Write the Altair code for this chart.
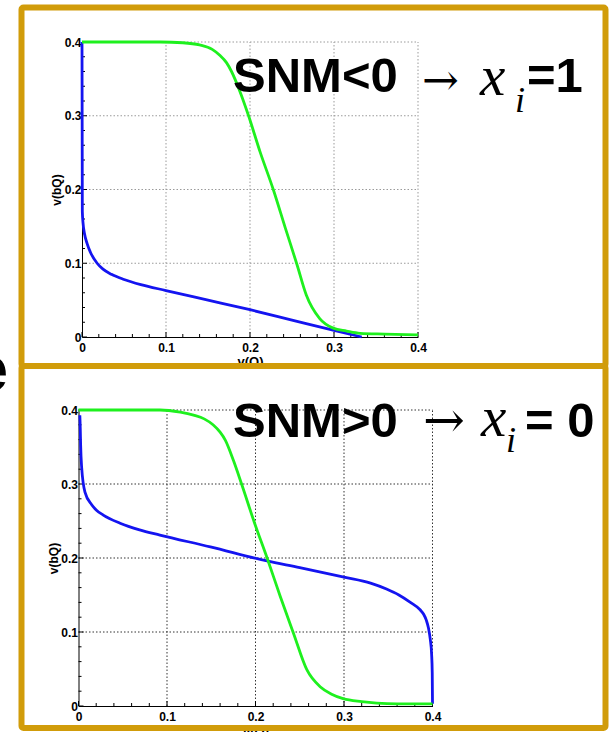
import altair as alt
import pandas as pd

V_MAX = 0.4
MAJOR_TICKS = [0, 0.1, 0.2, 0.3, 0.4]
MINOR_TICKS = [0.02, 0.04, 0.06, 0.08, 0.12, 0.14, 0.16, 0.18,
               0.22, 0.24, 0.26, 0.28, 0.32, 0.34, 0.36, 0.38]
GRID_LINES = [0.1, 0.2, 0.3, 0.4]

# upper plot: butterfly curves that do not enclose a lobe (SNM < 0)
up_green_x = [0.0, 0.05, 0.093, 0.12, 0.14, 0.155, 0.164, 0.172, 0.178, 0.188, 0.198,
              0.212, 0.228, 0.242, 0.256, 0.267, 0.283, 0.299, 0.315, 0.331, 0.36, 0.4]
up_green_y = [0.4, 0.4, 0.4, 0.399, 0.396, 0.39, 0.382, 0.372, 0.36, 0.333, 0.301,
              0.251, 0.199, 0.148, 0.098, 0.057, 0.025, 0.012, 0.008, 0.005, 0.004, 0.003]
up_blue_x = [0.0, 0.0004, 0.0012, 0.003, 0.006, 0.01, 0.018, 0.025, 0.035, 0.05,
             0.07, 0.1, 0.15, 0.2, 0.25, 0.3, 0.333]
up_blue_y = [0.4, 0.17, 0.155, 0.14, 0.127, 0.115, 0.1, 0.092, 0.085, 0.078,
             0.071, 0.063, 0.05, 0.037, 0.023, 0.009, 0.0]

# lower plot: curves crossing in the middle (SNM > 0)
lo_green_x = [0.0, 0.05, 0.092, 0.115, 0.13, 0.142, 0.152, 0.16, 0.166, 0.175, 0.184,
              0.199, 0.214, 0.228, 0.243, 0.258, 0.273, 0.286, 0.299, 0.32, 0.337, 0.36, 0.4]
lo_green_y = [0.4, 0.4, 0.4, 0.397, 0.393, 0.388, 0.38, 0.37, 0.359, 0.332, 0.301,
              0.247, 0.197, 0.148, 0.098, 0.049, 0.026, 0.016, 0.01, 0.006, 0.004, 0.003, 0.003]
lo_blue_x = [0.0015, 0.002, 0.0024, 0.0036, 0.0073, 0.0149, 0.02, 0.028, 0.047, 0.069,
             0.092, 0.149, 0.213, 0.25, 0.3, 0.33, 0.348, 0.362, 0.375, 0.386, 0.39,
             0.393, 0.3955, 0.3975, 0.399, 0.3997, 0.4]
lo_blue_y = [0.393, 0.375, 0.353, 0.322, 0.289, 0.272, 0.265, 0.258, 0.247, 0.238,
             0.231, 0.215, 0.196, 0.187, 0.174, 0.166, 0.158, 0.15, 0.14, 0.13, 0.124,
             0.116, 0.105, 0.09, 0.07, 0.045, 0.003]

W, H = 610, 732
GOLD = "#D19C0A"
GREEN = "#1EF01E"
BLUE = "#1414F0"
AXIS_FONT = "Liberation Sans Narrow, Liberation Sans"
SANS = "Liberation Sans"
SERIF = "Liberation Serif"


def panel(gx, gy, bx, by, x_px, y_px, grid_color, xtitle_dy, ytitle_x):
    xs = alt.Scale(domain=[0, V_MAX], range=x_px, nice=False, zero=False)
    ys = alt.Scale(domain=[0, V_MAX], range=y_px, nice=False, zero=False)

    x_axis = alt.Axis(
        orient="bottom", offset=y_px[0] - H, values=MAJOR_TICKS, format="~g",
        grid=False, ticks=False, labelFlush=False, labelPadding=5,
        domainColor="black", domainWidth=1,
        labelFont=AXIS_FONT, labelFontSize=12, labelFontWeight="bold", labelColor="black",
        title="v(Q)", titleFont=AXIS_FONT, titleFontSize=13, titleFontWeight="bold",
        titleColor="black", titleX=(x_px[0] + x_px[1]) / 2, titleY=xtitle_dy,
        titleAlign="center", titleBaseline="top")
    y_axis = alt.Axis(
        orient="left", offset=-x_px[0], values=MAJOR_TICKS, format="~g",
        grid=False, ticks=False, labelFlush=False, labelPadding=1,
        domainColor="black", domainWidth=1,
        labelFont=AXIS_FONT, labelFontSize=12, labelFontWeight="bold", labelColor="black",
        title="v(bQ)", titleFont=AXIS_FONT, titleFontSize=12, titleFontWeight="bold",
        titleColor="black", titleAngle=270, titleX=ytitle_x - x_px[0],
        titleY=(y_px[0] + y_px[1]) / 2, titleAlign="center", titleBaseline="middle")

    def X(field):
        return alt.X(field, scale=xs, axis=x_axis)

    def Y(field):
        return alt.Y(field, scale=ys, axis=y_axis)

    grid = pd.DataFrame({"g": GRID_LINES, "lo": 0.0, "hi": V_MAX})
    major = pd.DataFrame({"t": MAJOR_TICKS, "lo": 0.0})
    minor = pd.DataFrame({"t": MINOR_TICKS, "lo": 0.0})
    green = pd.DataFrame({"v": gx, "w": gy})
    blue = pd.DataFrame({"v": bx, "w": by})

    dotted = dict(color=grid_color, strokeDash=[1.5, 2], strokeWidth=1)
    vgrid = alt.Chart(grid).mark_rule(**dotted).encode(x=X("g:Q"), y=Y("lo:Q"), y2="hi:Q")
    hgrid = alt.Chart(grid).mark_rule(**dotted).encode(y=Y("g:Q"), x=X("lo:Q"), x2="hi:Q")

    def xticks(df, size):
        return alt.Chart(df).mark_rule(color="black", strokeWidth=1, y2Offset=-size).encode(
            x=X("t:Q"), y=Y("lo:Q"), y2="lo:Q")

    def yticks(df, size):
        return alt.Chart(df).mark_rule(color="black", strokeWidth=1, x2Offset=size).encode(
            y=Y("t:Q"), x=X("lo:Q"), x2="lo:Q")

    blue_line = alt.Chart(blue).mark_line(color=BLUE, strokeWidth=2.8, interpolate="monotone").encode(
        x=X("v:Q"), y=Y("w:Q"))
    green_line = alt.Chart(green).mark_line(color=GREEN, strokeWidth=2.8, interpolate="monotone").encode(
        x=X("v:Q"), y=Y("w:Q"))

    return alt.layer(vgrid, hgrid, xticks(major, 5), xticks(minor, 3),
                     yticks(major, 5), yticks(minor, 3), blue_line, green_line)


top = panel(up_green_x, up_green_y, up_blue_x, up_blue_y,
            [82, 418], [337, 42], "#9a9a9a", 18, 56)
bottom = panel(lo_green_x, lo_green_y, lo_blue_x, lo_blue_y,
               [78.5, 432.5], [706, 410], "#333333", 19, 53)

one = pd.DataFrame({"n": [0]})


def box(y0, y1):
    return alt.Chart(one).mark_rect(fillOpacity=0, stroke=GOLD, strokeWidth=6, cornerRadius=2).encode(
        x=alt.value(21.5), x2=alt.value(605.5), y=alt.value(y0), y2=alt.value(y1))


def word(text, x, y, size, font=SANS, weight="bold", style="normal", align="left"):
    return alt.Chart(one).mark_text(
        text=text, font=font, fontSize=size, fontWeight=weight, fontStyle=style,
        align=align, baseline="alphabetic", color="black").encode(
        x=alt.value(x), y=alt.value(y))


labels = [
    word("SNM<0", 233, 92, 49),
    word("\u2192", 422, 95, 44, font="DejaVu Serif", weight="normal"),
    word("x", 480, 95, 57, font=SERIF, weight="normal", style="italic"),
    word("i", 515, 112, 36, font=SERIF, weight="normal", style="italic"),
    word("=1", 527, 92, 49),
    word("SNM>0", 233, 437, 49),
    word("\u2192", 423, 437, 50, font="DejaVu Serif", weight="normal"),
    word("x", 481, 436, 57, font=SERIF, weight="normal", style="italic"),
    word("i", 506, 452, 36, font=SERIF, weight="normal", style="italic"),
    word("= 0", 525, 437, 49),
    word("e", 8, 391, 64, align="right"),
]

chart = alt.layer(top, bottom, *labels, box(7.5, 366), box(366, 728)).resolve_scale(
    x="independent", y="independent").resolve_axis(
    x="independent", y="independent").properties(
    width=W, height=H, padding=0, background="white",
    autosize=alt.AutoSizeParams(type="none")).configure_view(stroke=None)

chart.save("out.html", embed_options={"renderer": "svg", "actions": False})
